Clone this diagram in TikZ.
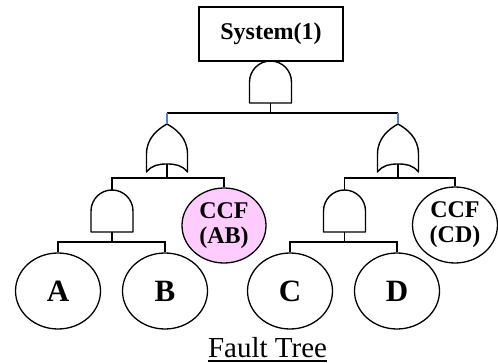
\documentclass[tikz,border=0pt]{standalone}
\usepackage{fontspec}
\setmainfont{Liberation Serif}
\usetikzlibrary{shapes.geometric}
\definecolor{ccfpink}{RGB}{255,204,255}
\definecolor{stubblue}{RGB}{80,130,200}
\begin{document}
\begin{tikzpicture}[x=1pt,y=-1pt,
  wire/.style={line width=1.3pt},
  stub/.style={line width=1.3pt, draw=stubblue},
  gateline/.style={line width=1.4pt, line join=round},
  event/.style={ellipse, draw, line width=1.3pt, inner sep=0pt,
    minimum width=85pt, minimum height=76pt,
    font=\fontsize{31}{34}\selectfont\bfseries},
  ccf/.style={event, align=center, font=\fontsize{24}{25}\selectfont\bfseries},
  % AND gate: origin at the middle of the flat base
  andgate/.pic={
    \draw[gateline] (-21,0) -- (-21,-21)
      .. controls (-21,-32.6) and (-11.6,-42) .. (0,-42)
      .. controls (11.6,-42) and (21,-32.6) .. (21,-21) -- (21,0) -- cycle;
    \coordinate (-out) at (0,0);
    \coordinate (-in) at (0,-42);
  },
  % OR gate: origin at the pointed top
  orgate/.pic={
    \draw[gateline] (0,0) .. controls (-9,5) and (-20.5,14) .. (-20.5,30)
      -- (-20.5,48) .. controls (-15,41) and (-8,40) .. (0,40)
      .. controls (8,40) and (15,41) .. (20.5,48) -- (20.5,30)
      .. controls (20.5,14) and (9,5) .. (0,0) -- cycle;
    \coordinate (-in) at (0,0);
    \coordinate (-out) at (0,40);
  }]
\useasboundingbox (0,0) rectangle (498,363);

% top event
\node[draw, line width=1.3pt, minimum width=144pt, minimum height=54pt,
      font=\fontsize{24}{28}\selectfont\bfseries] (sys) at (271,34) {System(1)};

% gates
\pic (g0) at (270.5,103) {andgate};
\pic (or1) at (167,124) {orgate};
\pic (or2) at (398,124) {orgate};
\pic (and1) at (112,232) {andgate};
\pic (and2) at (344.5,232) {andgate};

% basic and common-cause events
\node[event] (A) at (58,291) {A};
\node[event] (B) at (165,291) {B};
\node[event] (C) at (290,291) {C};
\node[event] (D) at (397,291) {D};
\node[ccf, fill=ccfpink, minimum width=84pt, minimum height=75pt] (ccfab) at (224,225.5) {CCF\\(AB)};
\node[ccf] (ccfcd) at (455,225) {CCF\\(CD)};

% junction points of the horizontal buses
\coordinate (j1) at (270.5,113);
\coordinate (j2a) at (167,178);
\coordinate (j2b) at (398,178);
\coordinate (j3a) at (112,242);
\coordinate (j3b) at (344.5,242);

% top level
\draw[wire] (g0-out) -- (j1);
\draw[wire] (or1-in |- j1) -- (or2-in |- j1);
\draw[stub] (or1-in |- j1) -- (or1-in);
\draw[stub] (or2-in |- j1) -- (or2-in);

% second level
\draw[wire] (or1-out) -- (j2a);
\draw[wire] (and1-in) |- (j2a) -| (ccfab.north);
\draw[wire] (or2-out) -- (j2b);
\draw[wire] (and2-in) |- (j2b) -| (ccfcd.north);

% third level
\draw[wire] (and1-out) -- (j3a);
\draw[wire] (A.north) |- (j3a) -| (B.north);
\draw[wire] (and2-out) -- (j3b);
\draw[wire] (C.north) |- (j3b) -| (D.north);

% caption
\node[inner sep=0pt, anchor=base, font=\fontsize{29}{32}\selectfont] (ft) at (267.5,357) {Fault Tree};
\draw[line width=1.8pt] ([yshift=-4pt]ft.base west) -- ([yshift=-4pt]ft.base east);
\end{tikzpicture}
\end{document}
